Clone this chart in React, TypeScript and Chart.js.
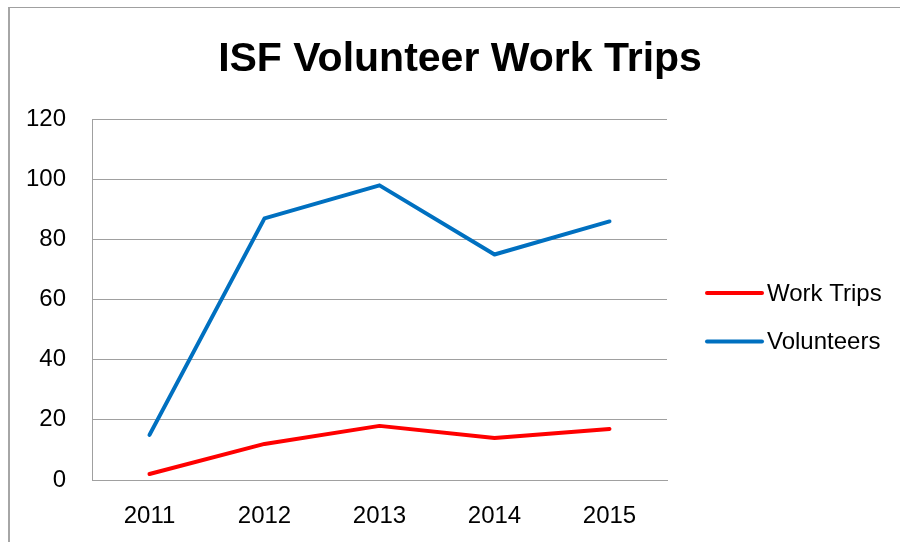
import React, { useEffect, useRef } from "react";
import { Chart, registerables } from "chart.js";

Chart.register(...registerables);

const years = ["2011", "2012", "2013", "2014", "2015"];
const workTrips = [2, 12, 18, 14, 17];
const volunteers = [15, 87, 98, 75, 86];
const seriesNames = ["Work Trips", "Volunteers"];
const seriesColors = ["#ff0000", "#0070c0"];
const titleText = "ISF Volunteer Work Trips";

const FONT = "'Liberation Sans', Arial, sans-serif";

const sideLegend = {
  id: "sideLegend",
  afterDraw(chart: any) {
    const { ctx, chartArea, data } = chart;
    const x0 = chartArea.right + 40;
    const lineLen = 55;
    const gap = 5;
    const spacing = 48.5;
    const midY = (chartArea.top + chartArea.bottom) / 2 - 6.5;
    ctx.save();
    ctx.font = `24px ${FONT}`;
    ctx.textBaseline = "middle";
    ctx.textAlign = "left";
    data.datasets.forEach((ds: any, i: number) => {
      const y = midY + i * spacing;
      ctx.strokeStyle = ds.borderColor;
      ctx.lineWidth = 4;
      ctx.lineCap = "round";
      ctx.beginPath();
      ctx.moveTo(x0, y);
      ctx.lineTo(x0 + lineLen, y);
      ctx.stroke();
      ctx.fillStyle = "#000000";
      ctx.fillText(ds.label, x0 + lineLen + gap, y + 1);
    });
    ctx.restore();
  },
};

export default function App() {
  const ref = useRef<HTMLCanvasElement | null>(null);

  useEffect(() => {
    if (!ref.current) return;
    const chart = new Chart(ref.current, {
      type: "line",
      data: {
        labels: years,
        datasets: [
          {
            label: seriesNames[0],
            data: workTrips,
            borderColor: seriesColors[0],
            backgroundColor: seriesColors[0],
            borderWidth: 4,
            pointRadius: 0,
            tension: 0,
            borderCapStyle: "round",
            borderJoinStyle: "round",
          },
          {
            label: seriesNames[1],
            data: volunteers,
            borderColor: seriesColors[1],
            backgroundColor: seriesColors[1],
            borderWidth: 4,
            pointRadius: 0,
            tension: 0,
            borderCapStyle: "round",
            borderJoinStyle: "round",
          },
        ],
      },
      options: {
        responsive: false,
        animation: false,
        events: [],
        layout: { padding: { left: 20, right: 0, top: 0, bottom: 0 } },
        plugins: {
          legend: { display: false },
          tooltip: { enabled: false },
          title: {
            display: true,
            text: titleText,
            color: "#000000",
            font: { family: FONT, size: 41, weight: "bold", lineHeight: 1.2 },
            padding: { top: 35, bottom: 35 },
          },
        },
        scales: {
          x: {
            type: "category",
            offset: true,
            grid: { display: false, drawTicks: false },
            border: { display: true, color: "#a0a0a0", width: 1 },
            ticks: {
              color: "#000000",
              font: { family: FONT, size: 24 },
              padding: 22,
              maxRotation: 0,
            },
            afterFit(scale: any) {
              scale.height = 62;
            },
          },
          y: {
            min: 0,
            max: 120,
            ticks: {
              stepSize: 20,
              color: "#000000",
              font: { family: FONT, size: 24 },
              padding: 26,
            },
            grid: { color: "#a0a0a0", lineWidth: 1, drawTicks: false },
            border: { display: true, color: "#a0a0a0", width: 1 },
            afterFit(scale: any) {
              scale.width = 72;
            },
          },
          legendSpace: {
            type: "linear",
            position: "right",
            display: true,
            min: 0,
            max: 1,
            grid: { display: false, drawTicks: false },
            border: { display: false },
            ticks: { display: false },
            afterFit(scale: any) {
              scale.width = 233;
            },
          },
        },
      },
      plugins: [sideLegend],
    });
    return () => chart.destroy();
  }, []);

  return (
    <div>
      <canvas
        ref={ref}
        width={900}
        height={542}
        style={{ position: "absolute", left: 0, top: 0, display: "block", background: "#ffffff" }}
      />
      <div
        style={{
          position: "absolute",
          left: 8,
          top: 7,
          width: 892,
          height: 535,
          boxSizing: "border-box",
          borderTop: "1px solid #a0a0a0",
          borderLeft: "2px solid #a6a6a6",
          pointerEvents: "none",
        }}
      />
    </div>
  );
}
